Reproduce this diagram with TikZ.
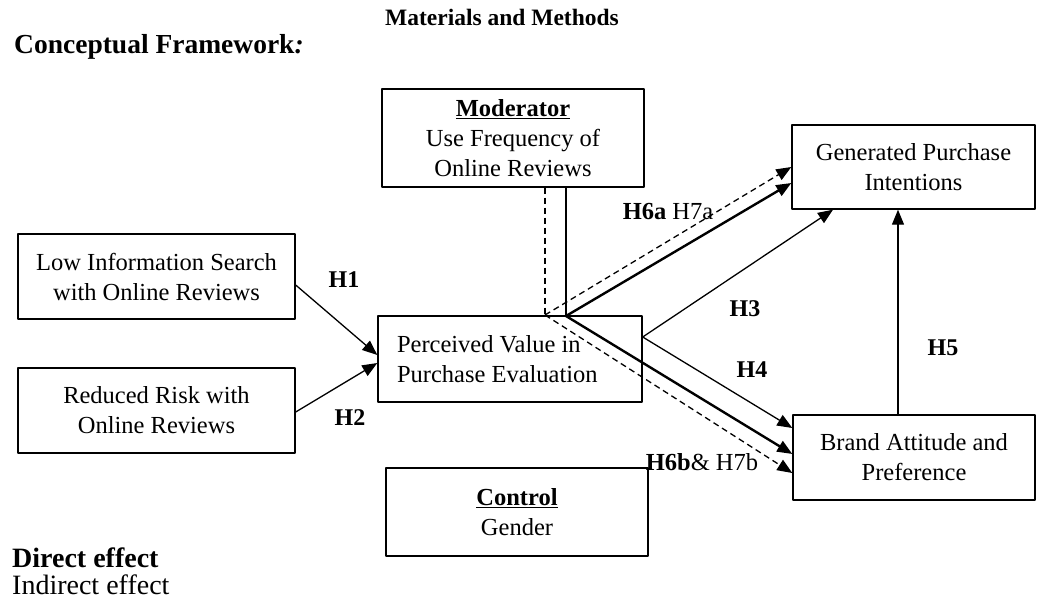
\documentclass[tikz,border=0pt]{standalone}
\usepackage{fontspec}
\setmainfont{Liberation Serif}
\usetikzlibrary{arrows.meta}
\begin{document}
\begin{tikzpicture}[x=1pt,y=-1pt,>={Triangle[length=15pt,width=12pt]},
	font=\fontsize{24.5}{30}\selectfont, line join=round,
	box/.style={draw,line width=1.4pt,inner sep=0pt,align=center},
	arr/.style={->,line width=1.3pt},
	modarr/.style={->,line width=2.4pt},
	indarr/.style={->,line width=1.3pt,dash pattern=on 6pt off 4pt},
	lab/.style={font=\fontsize{24}{30}\selectfont\bfseries}]
	\useasboundingbox (0,0) rectangle (1045,602);
	%\draw[color=gray!50,dashed] (0,0) grid[step=50] (1045,602);
	\node[font=\fontsize{23.5}{28}\selectfont\bfseries] (title) at (502,17) {Materials and Methods};
	\node[anchor=west,inner sep=0pt,font=\fontsize{27.5}{32}\selectfont\bfseries] (frame) at (14,47) {Conceptual Framework\textit{:}};
	\node[box,minimum width=277pt,minimum height=85pt] (low) at (156.5,276.5) {Low Information Search\\with Online Reviews};
	\node[box,minimum width=277pt,minimum height=85pt] (red) at (156.5,410.5) {Reduced Risk with\\Online Reviews};
	\node[box,minimum width=264pt,minimum height=86pt,text width=226pt,align=flush left] (per) at (510,359) {Perceived Value in\\Purchase Evaluation};
	\node[box,minimum width=262pt,minimum height=98pt] (mod) at (513,138) {\underline{\textbf{Moderator}}\\Use Frequency of\\Online Reviews};
	\node[box,minimum width=262pt,minimum height=88pt] (ctrl) at (517,512) {\underline{\textbf{Control}}\\Gender};
	\node[box,minimum width=243pt,minimum height=84pt] (gen) at (913.5,167) {Generated Purchase\\Intentions};
	\node[box,minimum width=242pt,minimum height=85pt] (bra) at (914,457.5) {Brand Attitude and\\Preference};
	\node[anchor=west,inner sep=0pt,font=\fontsize{28}{32}\selectfont\bfseries] (direct) at (12,558) {Direct effect};
	\node[anchor=west,inner sep=0pt,font=\fontsize{28}{32}\selectfont] (indirect) at (12,585) {Indirect effect};
	\coordinate (jS) at (566,316);
	\coordinate (jD) at (545,315);
	\draw[line width=2.4pt] (mod.south -| jS) -- (jS);
	\draw[line width=1.3pt,dash pattern=on 6pt off 4pt] (mod.south -| jD) -- (jD);
	\draw[modarr] (jS) -- ([yshift=-16pt]gen.west);
	\draw[indarr] (jD) -- (gen.west);
	\draw[modarr] (jS) -- ([yshift=3.5pt]bra.west);
	\draw[indarr] (jD) -- ([yshift=-15.5pt]bra.west);
	\draw[arr] ([yshift=22pt]per.east) -- ([xshift=-80.5pt]gen.south);
	\draw[arr] ([yshift=22pt]per.east) -- ([yshift=29.5pt]bra.west);
	\draw[arr] ([xshift=-16pt]bra.north) -- ([xshift=-16pt]bra.north |- gen.south);
	\draw[arr] ([yshift=-8.5pt]low.east) -- ([yshift=4pt]per.west);
	\draw[arr] ([yshift=-1.5pt]red.east) -- ([yshift=-4pt]per.west);
	\node[lab] (h1) at (344,280) {H1};
	\node[lab] (h2) at (350,418) {H2};
	\node[lab] (h3) at (745,309) {H3};
	\node[lab] (h4) at (752,370) {H4};
	\node[lab] (h5) at (943,348) {H5};
	\node (h6a) at (668,212) {\textbf{H6a} H7a};
	\node (h6b) at (702,462) {\textbf{H6b}\& H7b};
\end{tikzpicture}
\end{document}
